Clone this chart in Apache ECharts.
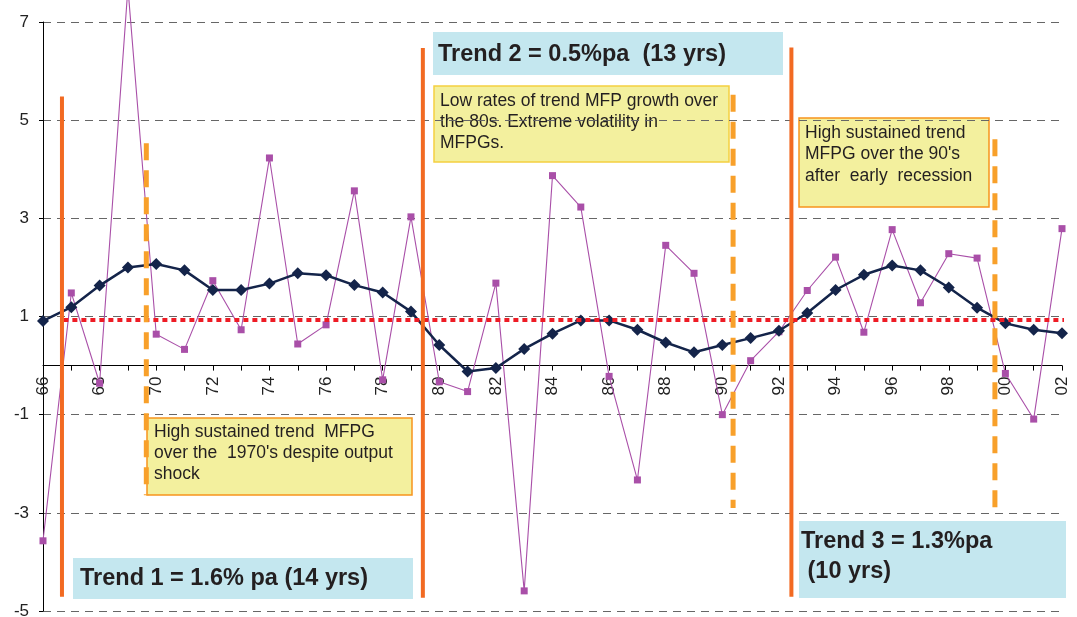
<!DOCTYPE html>
<html>
<head>
<meta charset="utf-8">
<script src="https://cdn.jsdelivr.net/npm/echarts@6/dist/echarts.min.js"></script>
<style>
  html, body { margin: 0; padding: 0; background: #fff; }
  #main { width: 1077px; height: 617px; }
</style>
</head>
<body>
<div id="main"></div>
<script>
// years 1966..2002, shown as two digit labels
var years = ['66','67','68','69','70','71','72','73','74','75','76','77','78','79',
  '80','81','82','83','84','85','86','87','88','89','90','91','92','93','94','95',
  '96','97','98','99','00','01','02'];

// trend MFP growth (smoothed)
var trendMfpg = [0.91, 1.19, 1.63, 2.0, 2.07, 1.94, 1.54, 1.54, 1.67, 1.88, 1.84, 1.64, 1.49, 1.1,
  0.42, -0.12, -0.05, 0.34, 0.65, 0.92, 0.92, 0.73, 0.47, 0.27, 0.42, 0.56, 0.71, 1.07, 1.54, 1.85,
  2.04, 1.94, 1.59, 1.18, 0.86, 0.73, 0.66];

// annual MFP growth
var annualMfpg = [-3.57, 1.48, -0.36, 7.7, 0.64, 0.33, 1.73, 0.73, 4.23, 0.44, 0.83, 3.56, -0.29, 3.03,
  -0.33, -0.53, 1.68, -4.59, 3.87, 3.23, -0.22, -2.33, 2.45, 1.88, -1.0, 0.1, 0.69, 1.53, 2.21, 0.68,
  2.77, 1.28, 2.28, 2.19, -0.16, -1.09, 2.79];

// average growth over the whole period
var meanValue = 0.93;
var meanFrom = 1966.72, meanTo = 2002.54;

// trend break lines (solid) and period markers (dashed), in years
var breakYears = [1966.67, 1979.42, 1992.44];
var breakTop = [5.48, 6.47, 6.48];
var breakBottom = [-4.71, -4.73, -4.71];
var dashYears = [1969.65, 1990.38, 1999.63];
var dashTop = [4.53, 5.52, 4.61];
var dashBottom = [-2.64, -2.9, -2.89];

var yMin = -5, yMax = 7;
var gridTop = 22, gridBottom = 6, H = 617;

var chart = echarts.init(document.getElementById('main'));
var FONT = 'Liberation Sans';
var TXT = '#231F20';

var series = [];
// annual series
series.push({
  type: 'line', xAxisIndex: 0, data: annualMfpg, clip: false, z: 3,
  symbol: 'rect', symbolSize: 7, showSymbol: true,
  lineStyle: { color: '#A94FA8', width: 1.1 },
  itemStyle: { color: '#A94FA8' }
});
// trend series
series.push({
  type: 'line', xAxisIndex: 0, data: trendMfpg, z: 4,
  symbol: 'diamond', symbolSize: 12,
  lineStyle: { color: '#14244A', width: 2.5 },
  itemStyle: { color: '#14244A' }
});
// mean line
series.push({
  type: 'line', xAxisIndex: 1, clip: false, z: 5, symbol: 'none',
  data: [[meanFrom, meanValue], [meanTo, meanValue]],
  lineStyle: { color: '#EE1C25', width: 4, type: [5, 4] }
});
for (var i = 0; i < breakYears.length; i++) {
  series.push({
    type: 'line', xAxisIndex: 1, clip: false, z: 6, symbol: 'none',
    data: [[breakYears[i], breakTop[i]], [breakYears[i], breakBottom[i]]],
    lineStyle: { color: '#F26A22', width: 4 }
  });
}
for (var j = 0; j < dashYears.length; j++) {
  series.push({
    type: 'line', xAxisIndex: 1, clip: false, z: 6, symbol: 'none',
    data: [[dashYears[j], dashTop[j]], [dashYears[j], dashBottom[j]]],
    lineStyle: { color: '#F8A02A', width: 5, type: [17, 10] }
  });
}

function box(x, y, w, h, fill, stroke, text, tx, ty, font, lh) {
  return {
    type: 'group', z: 1,
    children: [
      { type: 'rect', shape: { x: x, y: y, width: w, height: h },
        style: { fill: fill, stroke: stroke, lineWidth: stroke ? 1.5 : 0 } },
      { type: 'text', x: tx, y: ty,
        style: { text: text, font: font, fill: TXT, lineHeight: lh, verticalAlign: 'top' } }
    ]
  };
}

// move the category axis up to the zero line
var plotH = H - gridTop - gridBottom;
var zeroOffset = -plotH * (0 - yMin) / (yMax - yMin);

var option = {
  animation: false,
  backgroundColor: '#fff',
  grid: { left: 43, right: 15, top: gridTop, bottom: gridBottom, containLabel: false, outerBoundsMode: 'none' },
  xAxis: [{
    type: 'category', data: years, boundaryGap: false, position: 'bottom', offset: zeroOffset,
    axisLine: { onZero: false, lineStyle: { color: '#000', width: 1 } },
    axisTick: { show: true, inside: false, length: 5, interval: 0, lineStyle: { color: '#000' } },
    axisLabel: { interval: 1, rotate: 90, margin: 11, fontSize: 17, fontFamily: FONT, color: '#222' },
    splitLine: { show: false }
  }, {
    type: 'value', min: 1966, max: 2002, show: false
  }],
  yAxis: {
    type: 'value', min: yMin, max: yMax, interval: 2,
    axisLine: { show: true, onZero: false, lineStyle: { color: '#000', width: 1 } },
    axisTick: { show: true, length: 4, lineStyle: { color: '#000' } },
    axisLabel: { fontSize: 17, fontFamily: FONT, color: '#222', margin: 14 },
    splitLine: { show: true, lineStyle: { color: '#666', width: 1, type: [8, 6] } }
  },
  series: series,
  graphic: [
    box(73, 558, 340, 41, '#C4E7EF', null, 'Trend 1 = 1.6% pa (14 yrs)', 80, 567, 'bold 23.5px ' + FONT, 24),
    box(433, 32, 350, 43, '#C4E7EF', null, 'Trend 2 = 0.5%pa  (13 yrs)', 438, 43, 'bold 23.5px ' + FONT, 24),
    box(799, 521, 267, 77, '#C4E7EF', null, 'Trend 3 = 1.3%pa\n (10 yrs)', 801, 527, 'bold 23.5px ' + FONT, 30),
    box(434, 86, 295, 76, '#F3F09E', '#F5D040', 'Low rates of trend MFP growth over\nthe 80s. Extreme volatility in\nMFPGs.', 440, 91, '17.5px ' + FONT, 21),
    box(799, 118, 190, 89, '#F3F09E', '#F7941D', 'High sustained trend\nMFPG over the 90\'s\nafter  early  recession', 805, 122, '17.5px ' + FONT, 21.5),
    box(147, 418, 265, 77, '#F3F09E', '#F7941D', 'High sustained trend  MFPG\nover the  1970\'s despite output\nshock', 154, 422, '17.5px ' + FONT, 21)
  ]
};
chart.setOption(option);
</script>
</body>
</html>
